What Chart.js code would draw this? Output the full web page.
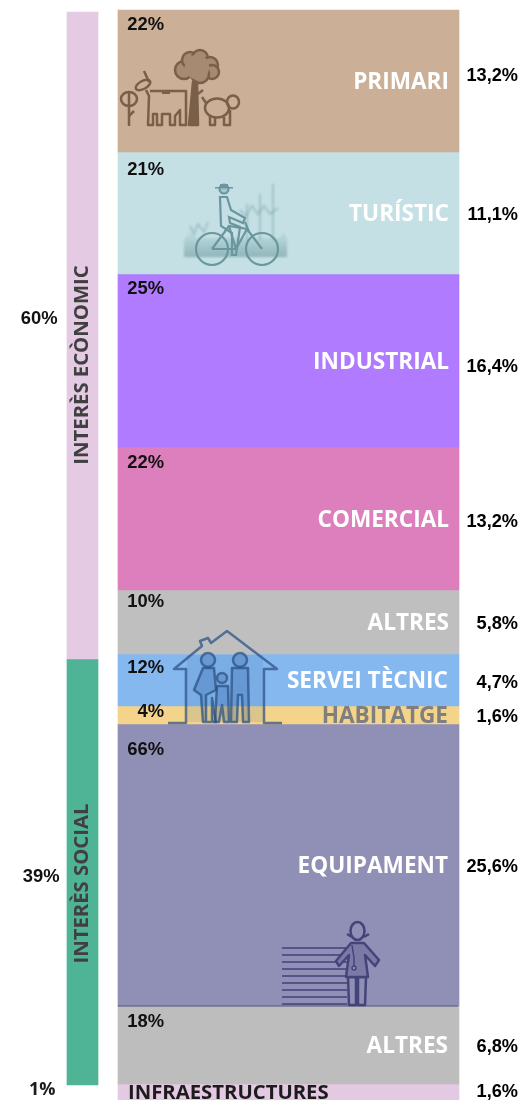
<!DOCTYPE html>
<html>
<head>
    <meta charset="utf-8">
    <title>Sòl per sectors</title>
    <script src="https://cdn.jsdelivr.net/npm/chart.js@4/dist/chart.umd.min.js"></script>
    <style>
        html, body { margin: 0; padding: 0; background: #fff; overflow: hidden; }
        canvas { display: block; }
    </style>
</head>
<body>
    <canvas id="grafic" width="523" height="1100"></canvas>
    <script>
        const columns = ['Interès', 'Sector'];

        // Right column top to bottom
        const sectorNames = ['PRIMARI', 'TURÍSTIC', 'INDUSTRIAL', 'COMERCIAL', 'ALTRES', 'SERVEI TÈCNIC', 'HABITATGE', 'EQUIPAMENT', 'ALTRES', 'INFRAESTRUCTURES'];
        const sectorSizes = [13.03, 11.19, 15.87, 13.12, 5.87, 4.77, 1.65, 25.87, 7.16, 1.47];
        const sectorTotals = ['13,2%', '11,1%', '16,4%', '13,2%', '5,8%', '4,7%', '1,6%', '25,6%', '6,8%', '1,6%'];
        const sectorShares = ['22%', '21%', '25%', '22%', '10%', '12%', '4%', '66%', '18%', ''];
        const sectorColors = ['#cbaf96', '#c4e0e4', '#b07bff', '#dd7fbd', '#bfbfbf', '#86b8f0', '#f3d48a', '#908fb6', '#bdbdbd', '#e4c9e2'];

        // Left column
        const groupNames = ['INTERÈS ECÒNOMIC', 'INTERÈS SOCIAL'];
        const groupSizes = [59.36, 39.08];
        const groupStart = 0.18;
        const groupLabels = ['60%', '39%', '1%'];
        const groupColors = ['#e4cae2', '#4fb396'];

        const BOLD_SANS = '"Open Sans", sans-serif';
        const ARIAL = '"Liberation Sans", Arial, sans-serif';

        function floating(sizes, start, column) {
            let pos = start;
            return sizes.map(size => {
                const data = [null, null];
                data[column] = [pos, pos + size];
                pos += size;
                return data;
            });
        }

        const datasets = [];
        floating(groupSizes, groupStart, 0).forEach((data, i) => {
            datasets.push({ label: groupNames[i], data: data, backgroundColor: groupColors[i], barThickness: 31, clip: false });
        });
        floating(sectorSizes, 0, 1).forEach((data, i) => {
            datasets.push({ label: sectorNames[i], data: data, backgroundColor: sectorColors[i], barThickness: 341, clip: false });
        });

        function put(ctx, text, x, y, font, color, align) {
            ctx.font = font;
            ctx.fillStyle = color;
            ctx.textAlign = align || 'left';
            ctx.textBaseline = 'middle';
            ctx.fillText(text, x, y);
        }

        function line(ctx, pts) {
            ctx.beginPath();
            pts.forEach((p, i) => i ? ctx.lineTo(p[0], p[1]) : ctx.moveTo(p[0], p[1]));
            ctx.stroke();
        }

        function shape(ctx, pts) {
            ctx.beginPath();
            pts.forEach((p, i) => i ? ctx.lineTo(p[0], p[1]) : ctx.moveTo(p[0], p[1]));
            ctx.closePath();
            ctx.fill();
            ctx.stroke();
        }

        function dot(ctx, x, y, rx, ry) {
            ctx.beginPath();
            ctx.ellipse(x, y, rx, ry || rx, 0, 0, Math.PI * 2);
            ctx.fill();
            ctx.stroke();
        }

        // Decorative pictograms
        function farmIcon(ctx) {
            ctx.save();
            ctx.filter = 'blur(0.6px)';
            ctx.strokeStyle = '#7a5f49';
            ctx.lineWidth = 2.5;
            ctx.lineJoin = 'round';
            ctx.fillStyle = '#a68a72';
            [[184, 70, 9], [190, 60, 8], [200, 58, 8], [210, 65, 8], [212, 72, 7], [200, 74, 9]].forEach(c => dot(ctx, c[0], c[1], c[2]));
            ctx.strokeStyle = '#a68a72';
            dot(ctx, 197, 67, 11);
            ctx.strokeStyle = '#7a5f49';
            ctx.fillStyle = '#7a5f49';
            shape(ctx, [[189, 125], [198, 125], [197, 82], [193, 82]]);
            line(ctx, [[198, 94], [203, 90]]);
            ctx.fillStyle = 'rgba(0,0,0,0)';
            // vaca
            line(ctx, [[150, 91], [186, 91], [186, 125], [180, 125], [180, 110], [175, 116], [175, 125], [170, 125], [170, 114], [162, 114], [162, 125], [157, 125], [157, 114], [153, 114], [153, 125], [148, 125], [149, 96], [146, 90]]);
            ctx.save();
            ctx.translate(143, 85);
            ctx.rotate(-0.5);
            dot(ctx, 0, 0, 8, 4);
            ctx.restore();
            line(ctx, [[149, 82], [144, 71]]);
            ctx.fillStyle = '#7a5f49';
            ctx.fillRect(162, 91, 8, 3);
            ctx.fillStyle = 'rgba(0,0,0,0)';
            // porc
            dot(ctx, 217, 108, 12, 9.5);
            dot(ctx, 233, 102, 6, 6.5);
            line(ctx, [[210, 116], [210, 125], [215, 125], [215, 118]]);
            line(ctx, [[224, 117], [224, 125], [230, 125], [230, 110]]);
            line(ctx, [[206, 103], [202, 97]]);
            // flor
            line(ctx, [[129, 104], [129, 126]]);
            dot(ctx, 129, 99, 8, 7);
            line(ctx, [[129, 93], [129, 105]]);
            line(ctx, [[129, 116], [134, 111]]);
            ctx.restore();
        }

        function cyclistIcon(ctx) {
            ctx.save();
            ctx.filter = 'blur(1.2px)';
            const grad = ctx.createLinearGradient(0, 230, 0, 258);
            grad.addColorStop(0, 'rgba(120,165,170,0.05)');
            grad.addColorStop(1, 'rgba(105,150,156,0.6)');
            ctx.fillStyle = grad;
            ctx.beginPath();
            ctx.moveTo(184, 257);
            ctx.lineTo(184, 240);
            ctx.lineTo(190, 232);
            ctx.lineTo(196, 238);
            ctx.lineTo(280, 238);
            ctx.lineTo(284, 232);
            ctx.lineTo(287, 240);
            ctx.lineTo(287, 257);
            ctx.closePath();
            ctx.fill();
            ctx.strokeStyle = 'rgba(120,160,166,0.45)';
            ctx.lineWidth = 2;
            line(ctx, [[190, 226], [194, 234], [198, 224], [204, 232], [208, 222]]);
            line(ctx, [[240, 210], [246, 216], [252, 206], [258, 214], [264, 206], [270, 214], [278, 208]]);
            line(ctx, [[247, 204], [247, 240]]);
            line(ctx, [[260, 194], [260, 240]]);
            line(ctx, [[273, 184], [273, 240]]);
            ctx.filter = 'blur(0.5px)';
            ctx.strokeStyle = '#6a969d';
            ctx.fillStyle = 'rgba(0,0,0,0)';
            ctx.lineWidth = 2.2;
            dot(ctx, 212, 249, 16);
            dot(ctx, 262, 249, 16);
            line(ctx, [[212, 249], [229, 226], [247, 229], [262, 249]]);
            line(ctx, [[212, 249], [236, 249], [247, 229]]);
            line(ctx, [[229, 226], [236, 249]]);
            line(ctx, [[245, 222], [249, 232]]);
            shape(ctx, [[220, 197], [227, 197], [231, 210], [245, 218], [243, 223], [229, 217], [230, 223], [240, 227], [236, 255], [232, 255], [232, 233], [221, 226]]);
            ctx.fillStyle = 'rgba(106,150,157,0.35)';
            dot(ctx, 224, 189, 4.5, 4.5);
            ctx.fillStyle = '#6a969d';
            ctx.fillRect(215, 187, 18, 1.5);
            ctx.fillRect(220, 184, 8, 3);
            ctx.restore();
        }

        function houseIcon(ctx) {
            ctx.save();
            ctx.filter = 'blur(0.5px)';
            ctx.strokeStyle = 'rgba(42,80,130,0.72)';
            ctx.lineWidth = 2.5;
            ctx.lineJoin = 'round';
            line(ctx, [[168, 723], [186, 723], [186, 669], [174, 669], [202, 646], [200, 641], [208, 638], [211, 643], [227, 631], [277, 669], [264, 669], [264, 723], [282, 723]]);
            ctx.fillStyle = 'rgba(40,90,160,0.12)';
            ctx.beginPath();
            ctx.rect(187, 655, 76, 67);
            ctx.fill();
            ctx.fillStyle = 'rgba(30,80,150,0.22)';
            dot(ctx, 208, 660, 7);
            dot(ctx, 240, 660, 7);
            dot(ctx, 222, 678, 5);
            shape(ctx, [[203, 668], [214, 668], [216, 690], [206, 695], [206, 722], [212, 722], [212, 698], [216, 722], [203, 722], [201, 695], [194, 690]]);
            shape(ctx, [[232, 668], [248, 668], [249, 722], [243, 722], [242, 695], [238, 695], [237, 722], [231, 722]]);
            shape(ctx, [[217, 686], [228, 686], [229, 722], [224, 722], [222, 705], [219, 722], [215, 722]]);
            ctx.restore();
        }

        function doctorIcon(ctx) {
            ctx.save();
            ctx.filter = 'blur(0.4px)';
            ctx.strokeStyle = '#55548a';
            ctx.lineWidth = 2;
            for (let y = 948; y <= 1004; y += 7) {
                line(ctx, [[282, y], [347, y]]);
            }
            ctx.strokeStyle = 'rgba(80,80,125,0.9)';
            ctx.lineWidth = 1;
            line(ctx, [[118, 1006], [458, 1006]]);
            ctx.strokeStyle = '#454478';
            ctx.lineWidth = 2.5;
            ctx.lineJoin = 'round';
            ctx.fillStyle = '#908fb6';
            shape(ctx, [[349, 1005], [356, 1005], [356, 978], [358, 978], [358, 1005], [365, 1005], [366, 977], [348, 977]]);
            ctx.fillStyle = '#7b7aa6';
            shape(ctx, [[351, 943], [364, 943], [379, 960], [375, 966], [365, 955], [368, 977], [346, 977], [349, 955], [339, 966], [336, 961]]);
            ctx.fillStyle = '#908fb6';
            dot(ctx, 357.5, 931, 7, 9);
            line(ctx, [[347, 934], [352, 937]]);
            line(ctx, [[369, 934], [364, 937]]);
            ctx.lineWidth = 1.5;
            line(ctx, [[352, 945], [354, 958], [354, 966]]);
            dot(ctx, 354, 968, 2);
            ctx.restore();
        }

        const etiquetes = {
            id: 'etiquetes',
            afterDatasetsDraw(chart) {
                const ctx = chart.ctx;
                const x = chart.scales.x;
                const y = chart.scales.y;
                const leftX = x.getPixelForValue(0);
                const barX = x.getPixelForValue(1);
                const barLeft = barX - 341 / 2;
                const barRight = barX + 341 / 2;

                farmIcon(ctx);
                cyclistIcon(ctx);
                houseIcon(ctx);
                doctorIcon(ctx);

                // small nudges where the label does not sit at the middle of its band
                const totalNudge = { 0: -5, 2: 6, 3: 3, 5: 3, 9: 0 };
                const totalDefault = 2;
                const shareNudge = [15, 18, 15, 16, 12, 14, 6, 26, 16];

                let pos = 0;
                sectorSizes.forEach((size, i) => {
                    const top = y.getPixelForValue(pos);
                    const bottom = y.getPixelForValue(pos + size);
                    const mid = (top + bottom) / 2;
                    pos += size;

                    const nameFont = 'bold 22.6px ' + BOLD_SANS;
                    const nameRight = i < 5 ? barRight - 10 : barRight - 11;
                    if (i === 0) {
                        ctx.save();
                        ctx.beginPath();
                        ctx.rect(barLeft, top, 329, bottom - top);
                        ctx.clip();
                        put(ctx, sectorNames[i], barRight - 10, mid + 2, nameFont, '#fff', 'right');
                        ctx.restore();
                    } else if (i === 9) {
                        put(ctx, sectorNames[i], barLeft + 10, mid + 1, 'bold 20.3px ' + BOLD_SANS, '#1c1c1c', 'left');
                    } else {
                        put(ctx, sectorNames[i], nameRight, mid + 2, nameFont, i === 6 ? '#7f7f7f' : '#fff', 'right');
                    }

                    const nudge = i in totalNudge ? totalNudge[i] : totalDefault;
                    put(ctx, sectorTotals[i], barRight + 59, mid + nudge, 'bold 18.2px ' + ARIAL, '#000', 'right');
                    if (sectorShares[i]) {
                        put(ctx, sectorShares[i], barLeft + 46, top + shareNudge[i], 'bold 18.4px ' + ARIAL, '#111', 'right');
                    }
                });

                // left column
                let from = groupStart;
                groupSizes.forEach((size, i) => {
                    const top = y.getPixelForValue(from);
                    const bottom = y.getPixelForValue(from + size);
                    from += size;
                    ctx.save();
                    ctx.translate(leftX, i === 0 ? 365 : 883.5);
                    ctx.rotate(-Math.PI / 2);
                    put(ctx, groupNames[i], 0, 0, 'bold 20.3px ' + BOLD_SANS, '#404040', 'center');
                    ctx.restore();
                    put(ctx, groupLabels[i], leftX + (i === 0 ? -25 : -23), (top + bottom) / 2 + (i === 0 ? -17 : 5), 'bold 18.4px ' + ARIAL, '#111', 'right');
                });
                put(ctx, groupLabels[2], leftX - 27, 1090, 'bold 18px ' + BOLD_SANS, '#1c1c1c', 'right');
            }
        };

        new Chart(document.getElementById('grafic'), {
            type: 'bar',
            data: { labels: columns, datasets: datasets },
            options: {
                responsive: false,
                animation: false,
                layout: { padding: { left: 82.5, right: 234.5, top: 10, bottom: 0 } },
                plugins: { legend: { display: false }, tooltip: { enabled: false } },
                scales: {
                    x: { display: false, offset: false, stacked: true },
                    y: { display: false, reverse: true, min: 0, max: 100 }
                }
            },
            plugins: [etiquetes]
        });
    </script>
</body>
</html>
